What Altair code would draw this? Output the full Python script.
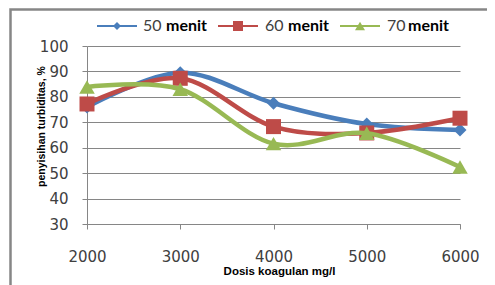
import altair as alt
import pandas as pd

doses = [2000, 3000, 4000, 5000, 6000]
series_names = ["50 menit", "60 menit", "70 menit"]
s50 = [76.0, 89.5, 77.5, 69.3, 67.0]
s60 = [77.2, 87.3, 68.3, 65.8, 71.6]
s70 = [83.9, 83.0, 61.6, 65.7, 52.4]
y_ticks = [30, 40, 50, 60, 70, 80, 90, 100]

colors = ["#4a7ebb", "#be4b48", "#98b954"]
shapes = ["diamond", "square", "triangle-up"]
sizes = [169, 225, 240]
leg_sizes = [64, 100, 100]

W, H = 373, 178
TICK_FONT = "DejaVu Sans"
TITLE_FONT = "Liberation Sans"
LEG_FONT = "Lato"

rows = []
for name, vals in zip(series_names, [s50, s60, s70]):
    for d, v in zip(doses, vals):
        rows.append({"series": name, "dose": d, "value": v})
df = pd.DataFrame(rows)

xenc = alt.X("dose:Q", scale=alt.Scale(domain=[2000, 6000], nice=False, zero=False),
             axis=alt.Axis(values=doses, format="d", grid=False, tickSize=5, labelFlush=False,
                           labelPadding=20, title="Dosis koagulan mg/l",
                           titleX=192, titleY=47, titleBaseline="middle",
                           titleFont=TITLE_FONT, titleFontSize=11.5, titleFontWeight="bold",
                           titleColor="#000000"))
yenc = alt.Y("value:Q", scale=alt.Scale(domain=[30, 100], nice=False, zero=False),
             axis=alt.Axis(values=y_ticks, grid=True, tickSize=5, labelPadding=14,
                           title="penyisihan turbiditas, %",
                           titleX=-46, titleY=80, titleBaseline="middle", titleAngle=-90,
                           titleFont=TITLE_FONT, titleFontSize=10.5, titleFontWeight="bold",
                           titleColor="#000000"))

border = alt.Chart(pd.DataFrame({"a": [0]})).mark_rect(
    fill=None, stroke="#868686", strokeWidth=2.5
).encode(x=alt.value(-76.5), x2=alt.value(W + 200), y=alt.value(-36.5), y2=alt.value(H + 200))

layers = [border]
leg_line_x = [(10, 50), (131, 171), (253, 293)]
leg_num_x = [56, 178, 300]
leg_word_x = [79, 201, 321]
LEG_Y = -20

for i, name in enumerate(series_names):
    sub = df[df["series"] == name]
    base = alt.Chart(sub)
    line = base.mark_line(interpolate="cardinal", strokeWidth=4.5, color=colors[i]).encode(x=xenc, y=yenc)
    pts = base.mark_point(filled=True, opacity=1, shape=shapes[i], size=sizes[i], color=colors[i]).encode(x=xenc, y=yenc)
    layers += [line, pts]

    one = alt.Chart(pd.DataFrame({"a": [0]}))
    x0, x1 = leg_line_x[i]
    num, word = name.split(" ")
    layers.append(one.mark_rule(color=colors[i], strokeWidth=2).encode(
        x=alt.value(x0), x2=alt.value(x1), y=alt.value(LEG_Y)))
    layers.append(one.mark_point(filled=True, opacity=1, shape=shapes[i], size=leg_sizes[i], color=colors[i]).encode(
        x=alt.value((x0 + x1) / 2), y=alt.value(LEG_Y)))
    layers.append(one.mark_text(text=num, font=LEG_FONT, fontSize=16, align="left", baseline="middle",
                                color="#404040").encode(x=alt.value(leg_num_x[i]), y=alt.value(LEG_Y)))
    layers.append(one.mark_text(text=word, font=LEG_FONT, fontSize=16, fontWeight="bold", align="left",
                                baseline="middle", color="#000000").encode(x=alt.value(leg_word_x[i]), y=alt.value(LEG_Y)))

chart = alt.layer(*layers).properties(
    width=W, height=H,
    autosize=alt.AutoSizeParams(type="none"),
    padding={"left": 79, "top": 38, "right": 27, "bottom": 62},
    background="white",
).configure_view(stroke=None).configure_axis(
    domainColor="#868686", tickColor="#868686", gridColor="#868686", gridWidth=1,
    labelFont=TICK_FONT, labelFontSize=15, labelColor="#404040",
)

chart.save("out.html", embed_options={"renderer": "svg", "actions": False})
